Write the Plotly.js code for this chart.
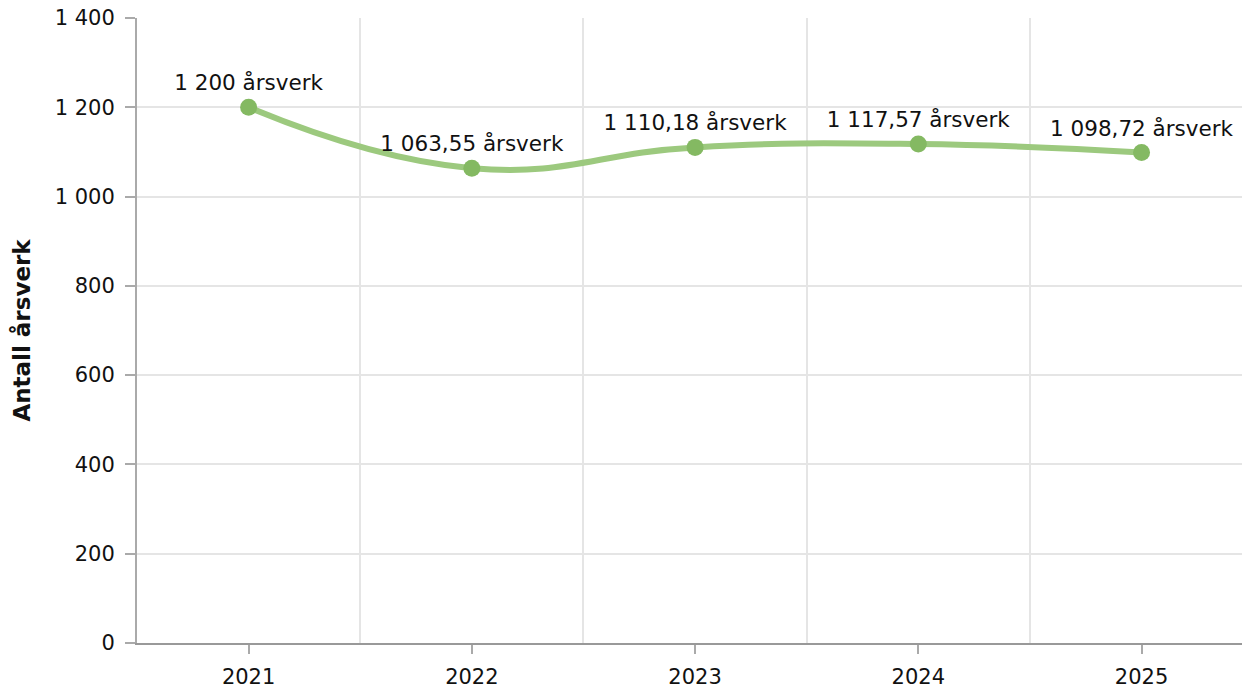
<!DOCTYPE html>
<html>
<head>
<meta charset="utf-8">
<script src="https://cdn.plot.ly/plotly-3.0.1.min.js"></script>
<style>html,body{margin:0;padding:0;background:#fff;}#chart{width:1242px;height:690px;}</style>
</head>
<body>
<div id="chart"></div>
<script>
const years = [2021, 2022, 2023, 2024, 2025];
const values = [1200, 1063.55, 1110.18, 1117.57, 1098.72];
const unit = "årsverk";
const yTitle = "Antall årsverk";

function fmt(v) {
  const isInt = Math.abs(v - Math.round(v)) < 1e-9;
  let s = isInt ? String(Math.round(v)) : v.toFixed(2);
  let [ip, dp] = s.split(".");
  ip = ip.replace(/\B(?=(\d{3})+(?!\d))/g, " ");
  return dp ? ip + "," + dp : ip;
}
const labels = values.map(v => fmt(v) + " " + unit);

const font = "DejaVu Sans, Verdana, sans-serif";
const trace = {
  x: years, y: values, text: labels,
  type: "scatter", mode: "lines+markers+text",
  line: {shape: "spline", smoothing: 1.3, color: "#9cc97e", width: 6},
  marker: {color: "#84b962", size: 17},
  textposition: "top center",
  textfont: {family: font, size: 21.5, color: "#111"},
  cliponaxis: false, hoverinfo: "skip"
};
const layout = {
  width: 1242, height: 690,
  margin: {l: 137, r: 0, t: 18, b: 47},
  paper_bgcolor: "#fff", plot_bgcolor: "#fff",
  separators: ", ",
  showlegend: false,
  font: {family: font, size: 21, color: "#111"},
  xaxis: {
    type: "linear", range: [2020.5, 2025.45],
    tickvals: years, ticktext: years.map(String),
    showgrid: false, zeroline: false,
    showline: true, linecolor: "#999", linewidth: 2,
    ticks: "outside", ticklen: 9, tickcolor: "#aaa", tickwidth: 2,
    ticklabelstandoff: 5,
    tickfont: {family: font, size: 21, color: "#111"},
    minor: {dtick: 1, tick0: 2021.5, showgrid: true, gridcolor: "#e5e5e5", gridwidth: 2, ticks: ""}
  },
  yaxis: {
    range: [0, 1400], dtick: 200, tick0: 0,
    separatethousands: true, tickformat: ",d",
    showgrid: true, gridcolor: "#e5e5e5", gridwidth: 2,
    zeroline: false, showline: true, linecolor: "#aaa", linewidth: 2,
    ticks: "outside", ticklen: 10, tickcolor: "#aaa", tickwidth: 2,
    ticklabelstandoff: 6,
    tickfont: {family: font, size: 21, color: "#111"},
    title: {text: "<b>" + yTitle + "</b>", font: {family: font, size: 23, color: "#111"}, standoff: 18}
  }
};
Plotly.newPlot("chart", [trace], layout, {displayModeBar: false, staticPlot: true});
</script>
</body>
</html>
